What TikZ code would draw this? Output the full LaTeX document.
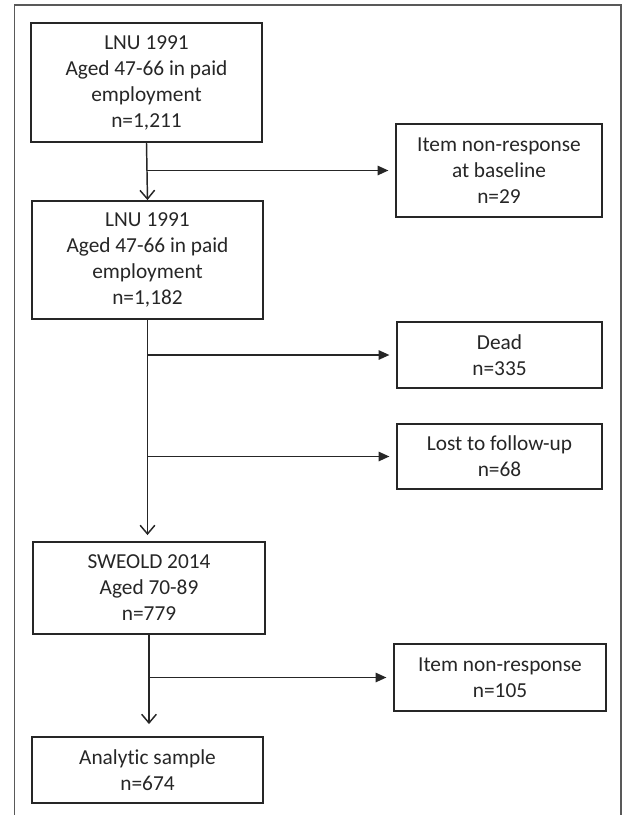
\documentclass[tikz,border=0pt]{standalone}
\usepackage{fontspec}
\setmainfont{Carlito}[Ligatures=NoCommon]
\usetikzlibrary{arrows.meta}

\begin{document}
\begin{tikzpicture}[x=0.75pt,y=-0.75pt,
flowbox/.style={draw=black!85,line width=1.4pt,align=center,inner sep=0pt,text=black!85,font=\fontsize{16}{19.5}\selectfont},
mainflow/.style={line width=1.1pt,draw=black!85,-{Straight Barb[length=6.5pt,width=11pt,line width=1.1pt]}},
sideflow/.style={line width=1.1pt,draw=black!85,-{Triangle[length=8pt,width=7pt]},shorten >=5pt}]
\useasboundingbox (0,0) rectangle (622,815);
% outer frame
\draw[line width=1pt,black!65] (14.7,815)--(14.7,5)--(621,5)--(621,815);
% main column
\node[flowbox,minimum width=173.25pt,minimum height=89.25pt] (lnuall) at (146.5,82.5) {LNU 1991\\Aged 47-66 in paid\\employment\\n=1,211};
\node[flowbox,minimum width=173.25pt,minimum height=88.5pt] (lnupaid) at (147.5,260) {LNU 1991\\Aged 47-66 in paid\\employment\\n=1,182};
\node[flowbox,minimum width=174pt,minimum height=69pt] (sweold) at (149,588) {SWEOLD 2014\\Aged 70-89\\n=779};
\node[flowbox,minimum width=173.25pt,minimum height=49.5pt] (analytic) at (147.5,770) {Analytic sample\\n=674};
% exclusions
\node[flowbox,minimum width=154.5pt,minimum height=69.75pt] (nrbase) at (499,170.5) {Item non-response\\at baseline\\n=29};
\node[flowbox,minimum width=153.75pt,minimum height=49.5pt] (dead) at (499.5,355) {Dead\\n=335};
\node[flowbox,minimum width=153.75pt,minimum height=48.75pt] (lost) at (499.5,456.5) {Lost to follow-up\\n=68};
\node[flowbox,minimum width=159pt,minimum height=50.25pt] (nritem) at (500,677.5) {Item non-response\\n=105};
% down arrows
\draw[mainflow] (lnuall.south) -- (lnupaid.north);
\draw[mainflow,shorten >=4.5pt] (lnupaid.south) -- (lnupaid.south |- sweold.north);
\draw[mainflow,shorten >=9pt] (sweold.south) -- (sweold.south |- analytic.north);
% side arrows
\draw[sideflow] (lnuall.south |- nrbase.west) -- (nrbase.west);
\draw[sideflow] (lnupaid.south |- dead.west) -- (dead.west);
\draw[sideflow] (lnupaid.south |- lost.west) -- (lost.west);
\draw[sideflow] (sweold.south |- nritem.west) -- (nritem.west);
\end{tikzpicture}
\end{document}
